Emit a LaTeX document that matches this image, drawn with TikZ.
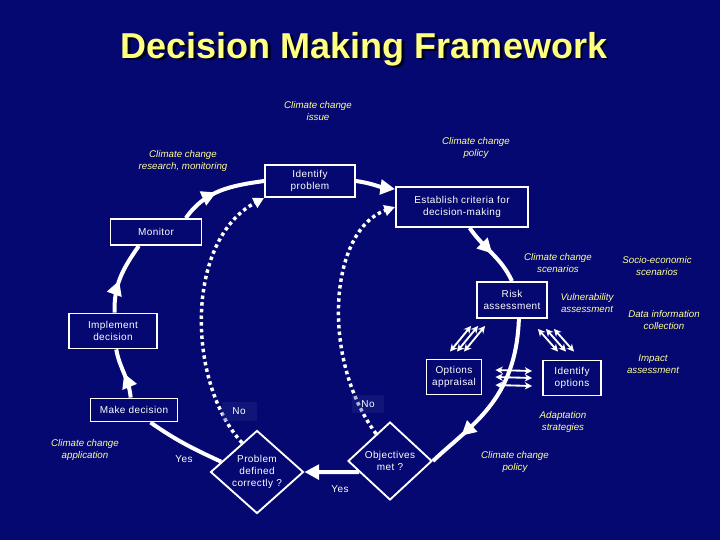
\documentclass[tikz,border=0pt]{standalone}
\usepackage{fontspec}
\setmainfont{Liberation Sans}
\newfontfamily\boxfont[LetterSpace=4]{Liberation Sans}
\usetikzlibrary{arrows.meta,shapes.geometric,decorations.markings,calc}
\definecolor{bgblue}{RGB}{4,8,112}
\definecolor{lyellow}{RGB}{255,255,150}
\definecolor{tyellow}{RGB}{255,255,128}
\definecolor{nobox}{RGB}{40,46,140}
\begin{document}
\begin{tikzpicture}[x=0.75pt,y=-0.75pt,
  box/.style={draw=white, line width=1.4pt, fill=bgblue, text=white,
    font=\boxfont\fontsize{7.5}{9}\selectfont, align=center, inner sep=0pt},
  sz/.style 2 args={minimum width=#1*0.75pt, minimum height=#2*0.75pt},
  lab/.style={text=lyellow, font=\itshape\fontsize{7.3}{9}\selectfont, align=center, inner sep=0pt},
  wlab/.style={text=white, font=\boxfont\fontsize{7.5}{9}\selectfont, inner sep=0pt},
  flow/.style={draw=white, line width=3pt},
  bigtip/.style={-{Triangle[length=11pt,width=11pt]}},
  midarrow/.style={postaction={decorate,decoration={markings,
    mark=at position #1 with {\arrow{Triangle[length=11pt,width=11pt]}}}}},
  dots/.style={draw=white, line width=2.6pt, dash pattern=on 2.6pt off 2.4pt,
    -{Triangle[length=8pt,width=8pt]}},
  tarrow/.style={draw=white, line width=1.4pt,
    {Stealth[length=5.5pt,width=5.5pt]}-{Stealth[length=5.5pt,width=5.5pt]}}
]
\fill[bgblue] (0,0) rectangle (720,540);
\useasboundingbox (0,0) rectangle (720,540);

% title
\node[font=\bfseries\fontsize{27}{30}\selectfont, text=black!75!bgblue] (titleshadow) at (366.5,51.5) {Decision Making Framework};
\node[font=\bfseries\fontsize{27}{30}\selectfont, text=tyellow] (title) at (364,49) {Decision Making Framework};

% boxes
\node[box, sz={90}{32}] (idp) at (310,181) {Identify\\problem};
\node[box, sz={132}{40}] (est) at (462,207) {Establish criteria for\\decision-making};
\node[box, sz={91}{26}] (mon) at (156,232) {Monitor};
\node[box, sz={70}{36}] (risk) at (512,300) {Risk\\assessment};
\node[box, sz={88}{35}] (imp) at (113,331) {Implement\\decision};
\node[box, sz={55}{35}] (opt) at (454,377) {Options\\appraisal};
\node[box, sz={58}{35}] (ido) at (572,378) {Identify\\options};
\node[box, sz={87}{23}] (mkd) at (134,410) {Make decision};
\node[box, diamond, sz={93}{80}] (prob) at (257,472) {Problem\\defined\\correctly ?};
\node[box, diamond, sz={84}{78}] (obj) at (390,461) {Objectives\\met ?};

% yellow italic labels
\node[lab] (l1) at (318,111) {Climate change\\issue};
\node[lab] (l2) at (476,148) {Climate change\\policy};
\node[lab] (l3) at (183,161) {Climate change\\research, monitoring};
\node[lab] (l4) at (558,263) {Climate change\\scenarios};
\node[lab] (l5) at (657,266) {Socio-economic\\scenarios};
\node[lab] (l6) at (587,303) {Vulnerability\\assessment};
\node[lab] (l7) at (664,320) {Data information\\collection};
\node[lab] (l8) at (653,364) {Impact\\assessment};
\node[lab] (l9) at (563,422) {Adaptation\\strategies};
\node[lab] (l10) at (85,450) {Climate change\\application};
\node[lab] (l11) at (515,462) {Climate change\\policy};

% main cycle
\draw[flow, midarrow=0.45] (mon.25) to[out=55, in=188] (idp.west);
\draw[flow, bigtip] (idp.east) to[out=-8, in=172] (est.165);
\draw[flow, midarrow=0.5] (est.-70) to[out=-55, in=115] (risk.north);
\draw[flow, midarrow=0.78] (risk.-70) .. controls +(-3,82) and +(38,-36) .. (obj.east);
\draw[flow, bigtip] (obj.200) -- (prob.east);
\draw[flow] (prob.164) to[out=155, in=-35] (mkd.-37);
\draw[flow, midarrow=0.5] (mkd.105) to[out=95, in=-80] (imp.-80);
\draw[flow, midarrow=0.45] (imp.85) to[out=92, in=-125] (mon.219);

% dotted feedback
\draw[dots] (prob.117) .. controls +(-55,-59) and +(-80,43) .. (idp.south west);
\draw[dots] (obj.117) .. controls +(-56,-75) and +(-66,23) .. (est.west);

% thin triple arrows
\foreach \s in {0,7,14}
  \draw[tarrow] ($(opt.north)+(-4+\s,-7)$) -- ($(risk.south west)+(-5+\s,7)$);
\foreach \s in {0,8,16}
  \draw[tarrow] ($(risk.south east)+(-10+\s,10)$) -- ($(ido.north)+(-14+\s,-8)$);
\foreach \s in {-7,0,8}
  \draw[tarrow] ($(opt.east)+(13,\s)$) -- ($(ido.west)+(-10,\s)$);

% No / Yes labels
\node[wlab, fill=nobox, fill opacity=0.35, text opacity=1, minimum width=35*0.75pt, minimum height=19*0.75pt] (no1) at (239,411) {No};
\node[wlab, fill=nobox, fill opacity=0.35, text opacity=1, minimum width=32*0.75pt, minimum height=18*0.75pt] (no2) at (368,404) {No};
\node[wlab] (yes1) at (184,459) {Yes};
\node[wlab] (yes2) at (340,489) {Yes};
\end{tikzpicture}
\end{document}
